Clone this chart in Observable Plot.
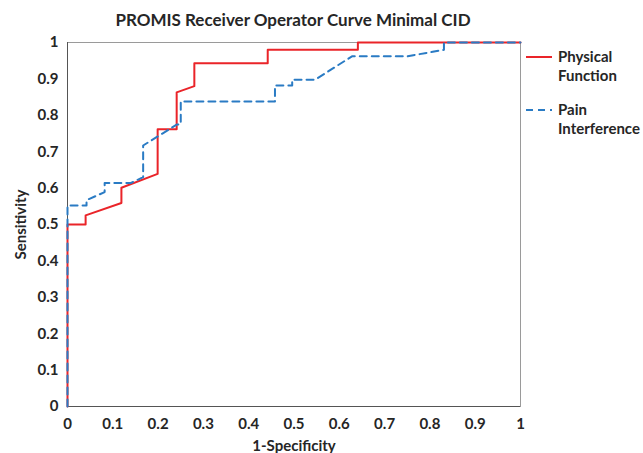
<!DOCTYPE html>
<html>
<head>
<meta charset="utf-8">
<script src="https://cdn.jsdelivr.net/npm/d3@7"></script>
<script src="https://cdn.jsdelivr.net/npm/@observablehq/plot@0.6"></script>
<style>
  html, body { margin: 0; padding: 0; background: #fff; }
  #wrap { position: relative; width: 643px; height: 453px; font-family: Lato, "Open Sans", sans-serif; color: #262626; }
  #title { position: absolute; left: 0; width: 586px; top: 9px; text-align: center; font-weight: bold; font-size: 17px; }
  #legend { position: absolute; left: 525px; top: 47px; font-weight: bold; font-size: 15px; line-height: 19px; }
  .item { display: flex; align-items: flex-start; margin-bottom: 15px; }
  .item svg { margin-top: 4px; margin-right: 5px; flex: none; }
</style>
</head>
<body>
<div id="wrap">
  <div id="title">PROMIS Receiver Operator Curve Minimal CID</div>
  <div id="chart"></div>
  <div id="legend"></div>
</div>
<script>
// Tick values
const xTicks = [0, 0.1, 0.2, 0.3, 0.4, 0.5, 0.6, 0.7, 0.8, 0.9, 1];
const yTicks = [0, 0.1, 0.2, 0.3, 0.4, 0.5, 0.6, 0.7, 0.8, 0.9, 1];

// Series names
const seriesNames = ["Physical Function", "Pain Interference"];
const legendLines = [["Physical", "Function"], ["Pain", "Interference"]];

// Physical Function ROC (1-Specificity, Sensitivity)
const pfFpr  = [0, 0,    0.04, 0.04,  0.119, 0.119, 0.199, 0.199, 0.241, 0.241, 0.280, 0.280, 0.442, 0.442, 0.641, 0.641, 1];
const pfSens = [0, 0.5,  0.5,  0.525, 0.559, 0.601, 0.639, 0.762, 0.762, 0.863, 0.880, 0.943, 0.943, 0.980, 0.980, 1,     1];

// Pain Interference ROC
const piFpr  = [0, 0,     0.042, 0.042, 0.082, 0.082, 0.140, 0.167, 0.167, 0.242, 0.250, 0.250, 0.458, 0.458, 0.496, 0.496, 0.547, 0.628, 0.750, 0.831, 0.831, 1];
const piSens = [0, 0.552, 0.552, 0.567, 0.589, 0.614, 0.614, 0.630, 0.717, 0.775, 0.775, 0.838, 0.838, 0.882, 0.882, 0.898, 0.898, 0.962, 0.962, 0.980, 1,     1];

const colors = ["#ea2429", "#2a7bc4"];

const pf = pfFpr.map((x, i) => ({x, y: pfSens[i]}));
const pi = piFpr.map((x, i) => ({x, y: piSens[i]}));
const fmt = d => String(+d.toFixed(1));

const chart = Plot.plot({
  width: 643,
  height: 453,
  marginLeft: 67,
  marginRight: 123,
  marginTop: 42,
  marginBottom: 47,
  style: {fontFamily: "Lato, 'Open Sans', sans-serif", fontWeight: "bold", fontSize: "15px", color: "#262626", background: "transparent"},
  x: {domain: [0, 1]},
  y: {domain: [0, 1]},
  marks: [
    Plot.frame({stroke: "#9a9a9a"}),
    Plot.axisX(xTicks, {tickSize: 0, tickPadding: 12, tickFormat: fmt, label: "1-Specificity", labelAnchor: "center", labelArrow: "none", labelOffset: 44, fontSize: 15}),
    Plot.axisY(yTicks, {tickSize: 0, tickPadding: 9, tickFormat: fmt, label: "Sensitivity", labelAnchor: "center", labelArrow: "none", labelOffset: 52, fontSize: 15}),
    Plot.ruleX([0], {stroke: "#555"}),
    Plot.ruleY([0], {stroke: "#555"}),
    Plot.line(pf, {x: "x", y: "y", stroke: colors[0], strokeWidth: 2, curve: "linear"}),
    Plot.line(pi, {x: "x", y: "y", stroke: colors[1], strokeWidth: 2, strokeDasharray: "7,5", curve: "linear"})
  ]
});
// strip any label arrows (older Plot versions)
chart.querySelectorAll("text").forEach(t => {
  if (/[→↑]/.test(t.textContent)) t.textContent = t.textContent.replace(/\s*[→↑]\s*/g, "").trim();
});
document.getElementById("chart").appendChild(chart);

// Legend
const legend = document.getElementById("legend");
seriesNames.forEach((name, i) => {
  const item = document.createElement("div");
  item.className = "item";
  const dash = i === 1 ? 'stroke-dasharray="7,5"' : "";
  item.innerHTML = `<svg width="28" height="12"><line x1="1" x2="27" y1="6" y2="6" stroke="${colors[i]}" stroke-width="2" ${dash}/></svg><div>${legendLines[i].join("<br>")}</div>`;
  legend.appendChild(item);
});
</script>
</body>
</html>
